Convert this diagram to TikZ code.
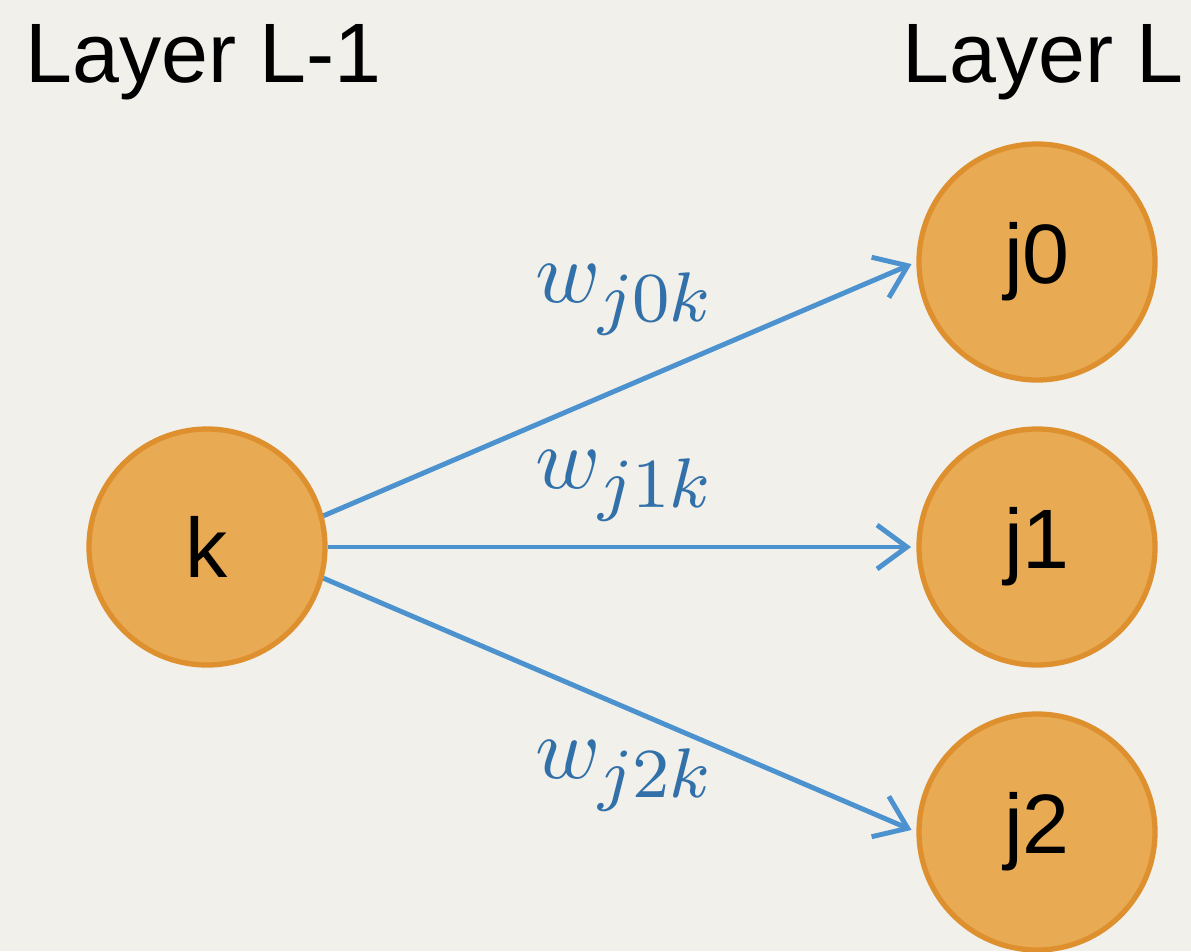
\documentclass[tikz,border=0pt]{standalone}
\usepackage{fontspec}
\setmainfont{Liberation Sans}
\usepackage{graphicx}
\usetikzlibrary{arrows.meta}
\DeclareMathSizes{10}{10}{8}{6}
\definecolor{bgcol}{HTML}{F1F0EB}
\definecolor{nodefill}{HTML}{E8AA52}
\definecolor{nodeedge}{HTML}{DE902F}
\definecolor{edgeblue}{HTML}{4C92CE}
\definecolor{labelblue}{HTML}{3170A8}
\newcommand{\wlabel}[1]{\scalebox{5}{$w_{#1}$}}
\begin{document}
\begin{tikzpicture}[x=0.02cm,y=-0.02cm,
  neuron/.style={circle,draw=nodeedge,fill=nodefill,line width=3pt,
    minimum size=236*0.02cm,inner sep=0pt,
    font=\fontsize{48}{56}\selectfont},
  layerlabel/.style={inner sep=0pt,font=\fontsize{48}{56}\selectfont},
  weight/.style={inner sep=0pt,text=labelblue},
  link/.style={draw=edgeblue,line width=2.8pt,
    -{Straight Barb[length=17pt,width=25pt,line width=2.8pt]},shorten >=3pt}]
  % canvas
  \fill[bgcol] (0,0) rectangle (1191,951);
  \useasboundingbox (0,0) rectangle (1191,951);

  % layer headings
  \node[layerlabel,anchor=base west] (hl) at (25,82) {Layer L-1};
  \node[layerlabel,anchor=base east] (hr) at (1184,82) {Layer L};

  % neurons
  \node[neuron] (k)  at (207,547) {k};
  \node[neuron] (j0) at (1037,262) {j0};
  \node[neuron] (j1) at (1037,547) {j1};
  \node[neuron] (j2) at (1037,832) {j2};

  % weighted connections
  \draw[link] (k.15) -- (j0.west);
  \draw[link] (k.east) -- (j1.west);
  \draw[link] (k.-15) -- (j2.west);

  % weight labels
  \node[weight] (w0) at (625,300) {\wlabel{j0k}};
  \node[weight] (w1) at (625,486) {\wlabel{j1k}};
  \node[weight] (w2) at (625,776) {\wlabel{j2k}};
\end{tikzpicture}
\end{document}
